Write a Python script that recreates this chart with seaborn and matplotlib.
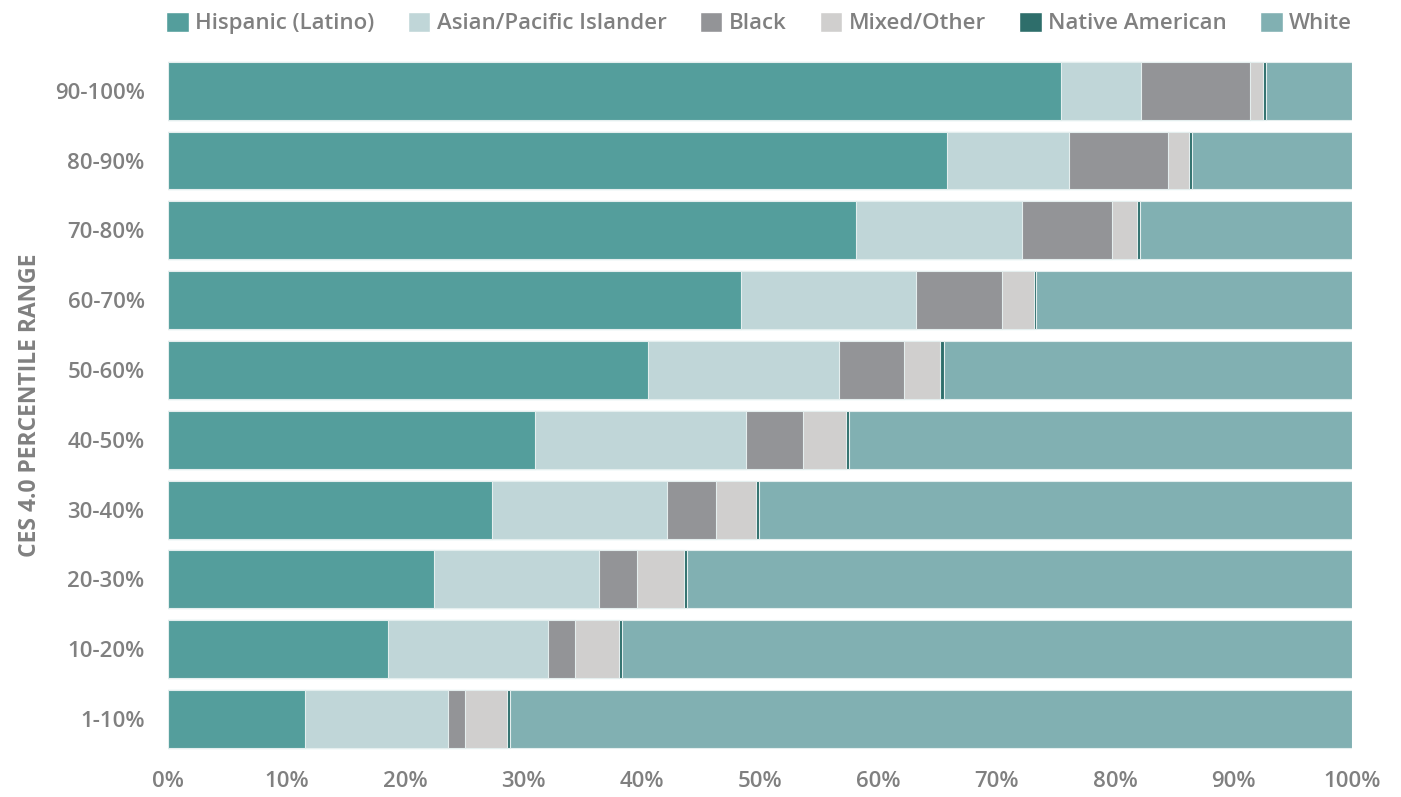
import numpy as np
import pandas as pd
import matplotlib
matplotlib.use("Agg")
import matplotlib.pyplot as plt
import seaborn as sns
from matplotlib.patches import Patch

ranges = ["90-100%", "80-90%", "70-80%", "60-70%", "50-60%",
          "40-50%", "30-40%", "20-30%", "10-20%", "1-10%"]
groups = ["Hispanic (Latino)", "Asian/Pacific Islander", "Black",
          "Mixed/Other", "Native American", "White"]

hispanic = [75.4, 65.8, 58.1, 48.4, 40.5, 31.0, 27.4, 22.5, 18.6, 11.6]
asian = [6.8, 10.3, 14.0, 14.8, 16.2, 17.8, 14.7, 13.9, 13.5, 12.0]
black = [9.2, 8.4, 7.6, 7.2, 5.5, 4.8, 4.2, 3.2, 2.3, 1.5]
mixed = [1.1, 1.7, 2.1, 2.7, 3.0, 3.7, 3.4, 4.0, 3.7, 3.5]
native = [0.2, 0.3, 0.3, 0.2, 0.3, 0.2, 0.2, 0.2, 0.2, 0.3]

colors = ["#549e9c", "#c0d6d8", "#939497", "#d0cfce", "#2e6e6b", "#81b0b2"]

df = pd.DataFrame({"range": ranges, groups[0]: hispanic, groups[1]: asian,
                   groups[2]: black, groups[3]: mixed, groups[4]: native})
df[groups[5]] = 100 - df[groups[:5]].sum(axis=1)
cum = df[groups].cumsum(axis=1)

sns.set_theme(style="white")
plt.rcParams["font.family"] = ["Open Sans", "DejaVu Sans"]
grey = "#808080"

fig = plt.figure(figsize=(14.01, 7.97), dpi=100)
ax = fig.add_axes([0.12, 0.054, 0.845, 0.876])

# draw cumulative totals from the widest down so each segment shows
for g, c in reversed(list(zip(groups, colors))):
    sns.barplot(x=cum[g], y=df["range"], orient="h", color=c, width=0.83,
                saturation=1, edgecolor="#e4eeee", linewidth=0.8, ax=ax)

ax.set_xlim(0, 100)
ax.set_ylim(9.5, -0.5)
ax.set_xticks(np.arange(0, 101, 10))
ax.set_xticklabels([f"{v}%" for v in range(0, 101, 10)])
ax.tick_params(axis="x", colors="#bbbbbb", length=3, width=1, pad=9,
               labelcolor=grey, labelsize=16)
ax.tick_params(axis="y", length=0, pad=17, labelcolor=grey, labelsize=16)
for lab in ax.get_xticklabels() + ax.get_yticklabels():
    lab.set_fontweight("semibold")
ax.set_xlabel("")
ax.set_ylabel("CES 4.0 PERCENTILE RANGE", color=grey, fontsize=16.5,
              fontweight="bold")
ax.yaxis.set_label_coords(-0.1065, 0.5)
sns.despine(ax=ax, left=True, bottom=True)

handles = [Patch(facecolor=c, label=g) for g, c in zip(groups, colors)]
leg = fig.legend(handles=handles, loc="center", bbox_to_anchor=(0.542, 0.971),
                 ncol=6, frameon=False, fontsize=16, handlelength=1.0,
                 handleheight=1.0, handletextpad=0.3, columnspacing=1.5)
for t in leg.get_texts():
    t.set_color(grey)
    t.set_fontweight("semibold")

fig.savefig("out.png", dpi=100)
